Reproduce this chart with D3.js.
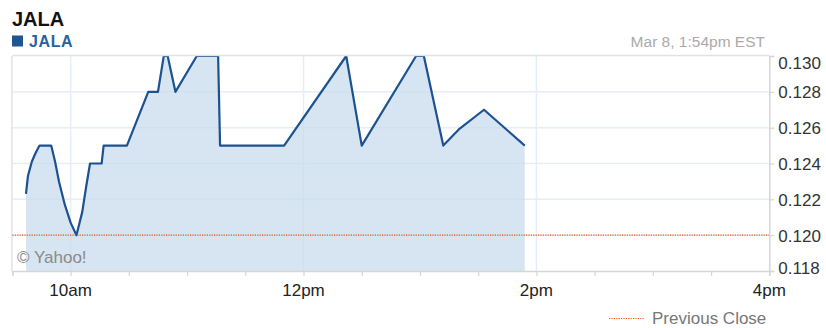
<!DOCTYPE html>
<html>
<head>
<meta charset="utf-8">
<script src="https://cdn.jsdelivr.net/npm/d3@7"></script>
<style>
  html, body { margin: 0; padding: 0; background: #fff; }
  svg { display: block; font-family: "Liberation Sans", Arial, sans-serif; }
</style>
</head>
<body>
<svg id="chart" width="826" height="328"></svg>
<script>
// ---- data ----
const symbol = "JALA";
const timestampLabel = "Mar 8, 1:54pm EST";
const times = ["09:37","09:38","09:40","09:42","09:44","09:50","09:52","09:54","09:57","10:00","10:03","10:06","10:08","10:10","10:16","10:17","10:29","10:40","10:45","10:48","10:50","10:54","11:05","11:16","11:17","11:50","12:22","12:30","12:58","13:02","13:12","13:20","13:33","13:54"];
const prices = [0.1223,0.1233,0.1241,0.1246,0.1250,0.1250,0.1241,0.1230,0.1217,0.1207,0.1200,0.1213,0.1227,0.1240,0.1240,0.1250,0.1250,0.1280,0.1280,0.1300,0.1300,0.1280,0.1300,0.1300,0.1250,0.1250,0.1300,0.1250,0.1300,0.1300,0.1250,0.1259,0.1270,0.1250];
const previousClose = 0.120;
const yTicks = [0.118,0.120,0.122,0.124,0.126,0.128,0.130];
const xMajorTicks = ["10:00","12:00","14:00","16:00"];
const xMajorLabels = ["10am","12pm","2pm","4pm"];
const sessionStart = "09:30", sessionEnd = "16:00";

// ---- helpers ----
const parseT = s => { const [h,m] = s.split(":").map(Number); return new Date(2013, 2, 8, h, m); };
const data = times.map((t,i) => ({t: parseT(t), v: prices[i]}));

const svg = d3.select("#chart");
const L = 12.4, R = 769.3, T = 56, B = 271;

const x = d3.scaleTime().domain([parseT(sessionStart), parseT(sessionEnd)]).range([L, R]);
const y = d3.scaleLinear().domain([0.118, 0.130]).range([B, T]);

// header
svg.append("text").attr("x", 12).attr("y", 26).attr("font-size", 20).attr("font-weight", "bold")
  .attr("fill", "#111").text(symbol);
svg.append("rect").attr("x", 12).attr("y", 35.5).attr("width", 11).attr("height", 11).attr("fill", "#1f5591");
svg.append("text").attr("x", 29).attr("y", 47).attr("font-size", 16).attr("font-weight", "bold")
  .attr("fill", "#2a62a0").attr("letter-spacing", 0.6).text(symbol);
svg.append("text").attr("x", 765).attr("y", 47).attr("text-anchor", "end").attr("font-size", 15.5)
  .attr("fill", "#aaa").text(timestampLabel);

// grid
const grid = svg.append("g");
grid.selectAll("line.h").data(yTicks.filter(v => v > 0.118 && v < 0.130)).join("line")
  .attr("x1", L).attr("x2", R).attr("y1", d => y(d)).attr("y2", d => y(d))
  .attr("stroke", "#e6edf5").attr("stroke-width", 1.5);
grid.selectAll("line.v").data(xMajorTicks.slice(0, 3)).join("line")
  .attr("x1", d => x(parseT(d))).attr("x2", d => x(parseT(d))).attr("y1", T).attr("y2", B)
  .attr("stroke", "#e6edf5").attr("stroke-width", 1.5);

// area + line
const area = d3.area().x(d => x(d.t)).y0(B).y1(d => y(d.v));
const line = d3.line().x(d => x(d.t)).y(d => y(d.v));
svg.append("path").datum(data).attr("d", area).attr("fill", "#c6dbec").attr("fill-opacity", 0.72);
svg.append("path").datum(data).attr("d", line).attr("fill", "none")
  .attr("stroke", "#1d5290").attr("stroke-width", 2.2).attr("stroke-linejoin", "round");

// borders
svg.append("line").attr("x1", L).attr("x2", R).attr("y1", T - 0.5).attr("y2", T - 0.5).attr("stroke", "#e2e2e2").attr("stroke-width", 1.5);
svg.append("line").attr("x1", L - 0.5).attr("x2", L - 0.5).attr("y1", T).attr("y2", B).attr("stroke", "#e2e2e2").attr("stroke-width", 1.5);

// previous close
svg.append("line").attr("x1", L).attr("x2", R).attr("y1", y(previousClose)).attr("y2", y(previousClose))
  .attr("stroke", "#f2561d").attr("stroke-width", 1.2).attr("stroke-dasharray", "1.2,1.2");

// copyright
svg.append("text").attr("x", 17).attr("y", 263).attr("font-size", 17).attr("fill", "#8a8a8a").text("© Yahoo!");

// x axis
const xAxis = d3.axisBottom(x)
  .ticks(d3.timeMinute.every(30))
  .tickSize(5)
  .tickFormat(() => "");
const gx = svg.append("g").attr("transform", `translate(0,${B})`).call(xAxis);
gx.select(".domain").attr("stroke", "#d6d6d6").attr("stroke-width", 1.5);
gx.selectAll(".tick line").attr("stroke", "#d6d6d6").attr("stroke-width", 1.2);
svg.append("g").selectAll("text").data(xMajorTicks).join("text")
  .attr("x", d => x(parseT(d))).attr("y", 296).attr("text-anchor", "middle")
  .attr("font-size", 17).attr("fill", "#222").text((d,i) => xMajorLabels[i]);

// y axis (right)
const yAxis = d3.axisRight(y).tickValues(yTicks).tickSize(5).tickFormat(d3.format(".3f"));
const gy = svg.append("g").attr("transform", `translate(${R},0)`).call(yAxis);
gy.select(".domain").attr("stroke", "#d6d6d6").attr("stroke-width", 1.5);
gy.selectAll(".tick line").attr("stroke", "#d6d6d6").attr("stroke-width", 1.2);
gy.selectAll(".tick text").attr("x", 9).attr("font-size", 17).attr("fill", "#333")
  .attr("font-family", "'Liberation Sans', Arial, sans-serif")
  .attr("dy", "0.35em")
  .attr("transform", d => {
    const yy = y(d);
    const c = Math.min(Math.max(yy, 62.5), 267.5);
    return `translate(0,${c - yy})`;
  });

// legend previous close
svg.append("line").attr("x1", 609).attr("x2", 645).attr("y1", 318.5).attr("y2", 318.5)
  .attr("stroke", "#f2561d").attr("stroke-width", 1.2).attr("stroke-dasharray", "1.2,1.2");
svg.append("text").attr("x", 652).attr("y", 324).attr("font-size", 17).attr("fill", "#777").text("Previous Close");
</script>
</body>
</html>
